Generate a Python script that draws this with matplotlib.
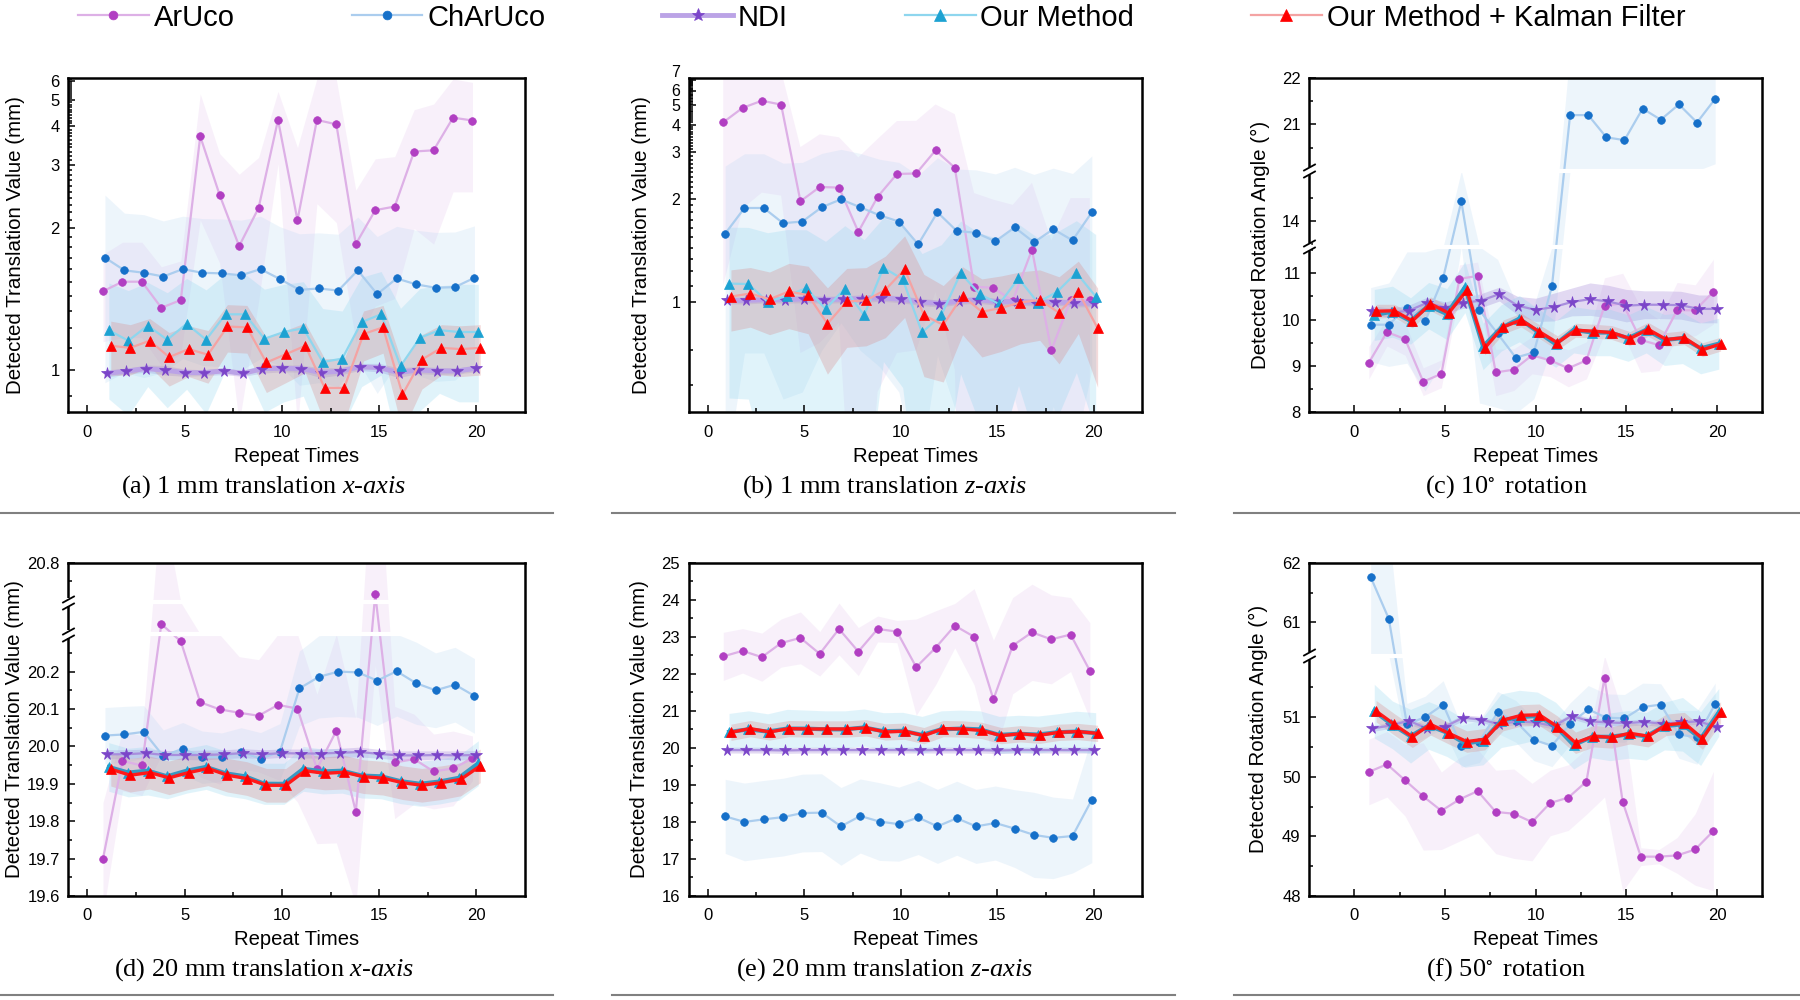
import numpy as np
import matplotlib
matplotlib.use("Agg")
import matplotlib.pyplot as plt
from matplotlib.lines import Line2D
from matplotlib.transforms import ScaledTranslation

plt.rcParams['font.family'] = ['Liberation Sans', 'DejaVu Sans']
plt.rcParams['mathtext.fontset'] = 'custom'
plt.rcParams['mathtext.rm'] = 'Liberation Serif'
plt.rcParams['mathtext.it'] = 'Liberation Serif:italic'
plt.rcParams['mathtext.bf'] = 'Liberation Serif:bold'
plt.rcParams['mathtext.fallback'] = 'stix'

# ---------------------------------------------------------------- data
REPEATS = [1, 2, 3, 4, 5, 6, 7, 8, 9, 10, 11, 12, 13, 14, 15, 16, 17, 18, 19, 20]
SERIES = ["ArUco", "ChArUco", "NDI", "Our Method", "Our Method + Kalman Filter"]
X_TICKS = [0, 5, 10, 15, 20]

# (a) 1 mm translation x-axis
ARUCO_A = [1.43, 1.50, 1.50, 1.32, 1.37, 3.70, 2.45, 1.81, 2.26, 4.22, 2.10, 4.22, 4.07, 1.83, 2.23, 2.28, 3.30, 3.33, 4.30, 4.20]
CHARUCO_A = [1.70, 1.59, 1.57, 1.54, 1.60, 1.57, 1.565, 1.55, 1.60, 1.52, 1.44, 1.45, 1.435, 1.59, 1.41, 1.525, 1.48, 1.455, 1.46, 1.53]
NDI_A = [0.987, 0.996, 1.007, 1.000, 0.990, 0.990, 0.997, 0.987, 1.006, 1.008, 1.007, 0.990, 0.996, 1.014, 1.011, 0.990, 1.001, 0.997, 0.997, 1.008]
OUR_A = [1.19, 1.135, 1.215, 1.14, 1.225, 1.14, 1.28, 1.28, 1.145, 1.18, 1.20, 1.035, 1.05, 1.235, 1.28, 1.017, 1.15, 1.19, 1.18, 1.18]
KF_A = [1.11, 1.10, 1.135, 1.057, 1.094, 1.068, 1.21, 1.205, 1.033, 1.07, 1.11, 0.93, 0.93, 1.17, 1.205, 0.906, 1.046, 1.10, 1.094, 1.10]
ARUCO_A_SD = [0.30, 0.35, 0.35, 0.30, 0.30, 1.60, 0.80, 1.00, 0.90, 1.20, 1.30, 1.90, 2.00, 0.70, 0.90, 0.90, 1.30, 1.50, 1.80, 1.70]
CHARUCO_A_SD = [0.75, 0.60, 0.60, 0.55, 0.55, 0.55, 0.55, 0.55, 0.55, 0.50, 0.50, 0.50, 0.50, 0.55, 0.50, 0.50, 0.50, 0.50, 0.50, 0.50]
NDI_A_SD = [0.015, 0.012, 0.015, 0.020, 0.015, 0.012, 0.015, 0.012, 0.018, 0.015, 0.015, 0.020, 0.015, 0.015, 0.018, 0.020, 0.015, 0.015, 0.012, 0.015]
OUR_A_SD = [0.30, 0.30, 0.28, 0.28, 0.30, 0.30, 0.28, 0.28, 0.30, 0.30, 0.30, 0.28, 0.25, 0.30, 0.30, 0.30, 0.30, 0.28, 0.30, 0.30]
KF_A_SD = [0.13, 0.12, 0.12, 0.12, 0.12, 0.12, 0.13, 0.13, 0.12, 0.12, 0.12, 0.12, 0.12, 0.13, 0.13, 0.12, 0.12, 0.12, 0.12, 0.12]

# (b) 1 mm translation z-axis
ARUCO_B = [4.10, 4.85, 5.30, 5.05, 1.96, 2.20, 2.19, 1.56, 2.03, 2.46, 2.47, 3.06, 2.60, 1.093, 1.085, 1.006, 1.38, 0.77, 1.01, 1.01]
CHARUCO_B = [1.54, 1.86, 1.86, 1.66, 1.68, 1.87, 1.99, 1.87, 1.76, 1.68, 1.43, 1.80, 1.57, 1.55, 1.46, 1.61, 1.45, 1.59, 1.47, 1.80]
NDI_B = [1.008, 1.008, 1.012, 1.012, 1.017, 1.012, 1.015, 1.019, 1.023, 1.015, 1.000, 0.990, 1.004, 1.012, 1.000, 1.002, 0.996, 1.000, 0.992, 0.992]
OUR_B = [1.113, 1.11, 1.00, 1.035, 1.083, 0.96, 1.08, 0.927, 1.228, 1.143, 0.845, 0.927, 1.186, 1.045, 0.987, 1.149, 0.996, 1.06, 1.19, 1.031]
KF_B = [1.031, 1.049, 1.015, 1.062, 1.039, 0.885, 1.002, 1.008, 1.072, 1.216, 0.927, 0.88, 1.035, 0.945, 0.966, 0.996, 1.011, 0.94, 1.06, 0.864]
ARUCO_B_SD = [3.0, 3.0, 3.2, 3.0, 1.2, 1.4, 1.3, 1.3, 1.4, 1.7, 1.7, 2.0, 1.9, 1.0, 0.9, 0.9, 0.9, 0.7, 1.0, 1.0]
CHARUCO_B_SD = [1.10, 1.10, 1.10, 1.05, 1.05, 1.10, 1.10, 1.10, 1.05, 1.05, 1.00, 1.05, 1.00, 1.00, 1.00, 1.00, 1.00, 1.00, 1.00, 1.10]
NDI_B_SD = [0.020, 0.020, 0.018, 0.020, 0.022, 0.020, 0.020, 0.022, 0.020, 0.020, 0.020, 0.020, 0.018, 0.020, 0.020, 0.020, 0.020, 0.018, 0.020, 0.020]
OUR_B_SD = [0.50, 0.50, 0.55, 0.55, 0.50, 0.50, 0.55, 0.55, 0.50, 0.50, 0.50, 0.50, 0.50, 0.50, 0.50, 0.50, 0.50, 0.50, 0.50, 0.50]
KF_B_SD = [0.18, 0.18, 0.18, 0.20, 0.20, 0.20, 0.22, 0.22, 0.25, 0.30, 0.25, 0.22, 0.20, 0.20, 0.20, 0.20, 0.20, 0.22, 0.22, 0.22]

# (c) 10 deg rotation
ARUCO_C = [9.07, 9.73, 9.58, 8.66, 8.83, 10.88, 10.94, 8.86, 8.92, 9.23, 9.12, 8.95, 9.12, 10.30, 10.35, 9.56, 9.45, 10.20, 10.20, 10.60]
CHARUCO_C = [9.89, 9.89, 10.26, 9.96, 10.90, 14.42, 10.20, 9.70, 9.18, 9.29, 10.72, 21.20, 21.20, 20.72, 20.66, 21.34, 21.10, 21.43, 21.04, 21.55]
NDI_C = [10.19, 10.15, 10.19, 10.36, 10.26, 10.36, 10.41, 10.55, 10.30, 10.21, 10.27, 10.38, 10.44, 10.39, 10.30, 10.32, 10.32, 10.31, 10.23, 10.23]
OUR_C = [10.10, 10.17, 9.97, 10.30, 10.12, 10.70, 9.42, 9.82, 10.02, 9.74, 9.47, 9.78, 9.72, 9.72, 9.60, 9.78, 9.56, 9.60, 9.38, 9.48]
KF_C = [10.18, 10.19, 9.97, 10.34, 10.14, 10.63, 9.39, 9.84, 9.99, 9.74, 9.50, 9.77, 9.75, 9.72, 9.59, 9.79, 9.57, 9.61, 9.35, 9.47]
ARUCO_C_SD = [0.35, 0.30, 0.35, 0.30, 0.30, 0.30, 0.30, 0.50, 0.45, 0.40, 0.35, 0.40, 0.40, 0.60, 0.65, 0.70, 0.55, 0.60, 0.55, 0.70]
CHARUCO_C_SD = [0.80, 0.90, 1.20, 1.50, 1.80, 2.50, 2.00, 1.60, 1.20, 1.00, 1.30, 1.40, 1.40, 1.40, 1.40, 1.40, 1.40, 1.40, 1.40, 1.40]
NDI_C_SD = [0.10, 0.10, 0.12, 0.12, 0.12, 0.12, 0.15, 0.15, 0.20, 0.25, 0.30, 0.30, 0.35, 0.35, 0.35, 0.30, 0.30, 0.30, 0.30, 0.30]
OUR_C_SD = [0.55, 0.55, 0.50, 0.50, 0.55, 0.55, 0.50, 0.50, 0.50, 0.50, 0.50, 0.50, 0.50, 0.50, 0.50, 0.50, 0.55, 0.55, 0.55, 0.55]
KF_C_SD = [0.15, 0.14, 0.15, 0.15, 0.15, 0.16, 0.15, 0.15, 0.15, 0.15, 0.15, 0.15, 0.15, 0.15, 0.15, 0.15, 0.15, 0.15, 0.15, 0.15]

# (d) 20 mm translation x-axis
ARUCO_D = [19.700, 19.961, 19.949, 20.477, 20.281, 20.118, 20.099, 20.090, 20.082, 20.111, 20.101, 19.940, 20.042, 19.825, 20.716, 19.957, 19.966, 19.933, 19.941, 19.968]
CHARUCO_D = [20.029, 20.032, 20.039, 19.974, 19.994, 19.971, 19.971, 19.985, 19.967, 19.986, 20.155, 20.186, 20.200, 20.198, 20.176, 20.201, 20.169, 20.150, 20.165, 20.135]
NDI_D = [19.979, 19.979, 19.982, 19.977, 19.977, 19.977, 19.979, 19.982, 19.979, 19.982, 19.981, 19.981, 19.983, 19.985, 19.980, 19.976, 19.976, 19.977, 19.976, 19.977]
OUR_D = [19.945, 19.930, 19.935, 19.920, 19.935, 19.945, 19.928, 19.920, 19.900, 19.900, 19.940, 19.933, 19.935, 19.922, 19.920, 19.907, 19.900, 19.906, 19.916, 19.955]
KF_D = [19.939, 19.923, 19.930, 19.916, 19.930, 19.941, 19.923, 19.914, 19.896, 19.896, 19.935, 19.928, 19.931, 19.919, 19.915, 19.903, 19.896, 19.903, 19.912, 19.948]
ARUCO_D_SD = [0.15, 0.08, 0.08, 0.50, 0.30, 0.20, 0.20, 0.15, 0.15, 0.20, 0.25, 0.20, 0.30, 0.25, 0.50, 0.15, 0.12, 0.10, 0.10, 0.06]
CHARUCO_D_SD = [0.075, 0.075, 0.070, 0.070, 0.070, 0.070, 0.065, 0.065, 0.070, 0.075, 0.100, 0.110, 0.120, 0.120, 0.120, 0.120, 0.110, 0.100, 0.100, 0.100]
NDI_D_SD = [0.012, 0.012, 0.011, 0.012, 0.012, 0.013, 0.012, 0.012, 0.012, 0.011, 0.012, 0.012, 0.012, 0.013, 0.012, 0.012, 0.012, 0.011, 0.012, 0.012]
OUR_D_SD = [0.065, 0.065, 0.065, 0.060, 0.060, 0.060, 0.060, 0.060, 0.055, 0.055, 0.060, 0.060, 0.060, 0.060, 0.060, 0.060, 0.060, 0.060, 0.060, 0.060]
KF_D_SD = [0.045, 0.045, 0.044, 0.045, 0.045, 0.046, 0.045, 0.045, 0.045, 0.045, 0.045, 0.044, 0.045, 0.045, 0.045, 0.045, 0.045, 0.045, 0.044, 0.045]

# (e) 20 mm translation z-axis
ARUCO_E = [22.47, 22.62, 22.45, 22.83, 22.97, 22.54, 23.21, 22.60, 23.21, 23.14, 22.18, 22.70, 23.30, 23.00, 21.31, 22.76, 23.12, 22.93, 23.06, 22.08]
CHARUCO_E = [18.15, 18.00, 18.07, 18.13, 18.24, 18.25, 17.88, 18.16, 18.01, 17.94, 18.12, 17.88, 18.10, 17.88, 17.97, 17.82, 17.65, 17.57, 17.62, 18.60]
NDI_E = [19.94, 19.94, 19.94, 19.93, 19.94, 19.94, 19.94, 19.94, 19.94, 19.94, 19.94, 19.94, 19.94, 19.94, 19.93, 19.94, 19.94, 19.94, 19.94, 19.94]
OUR_E = [20.43, 20.50, 20.44, 20.52, 20.52, 20.50, 20.50, 20.55, 20.45, 20.46, 20.35, 20.50, 20.52, 20.50, 20.35, 20.38, 20.36, 20.42, 20.44, 20.40]
KF_E = [20.42, 20.52, 20.43, 20.52, 20.51, 20.51, 20.51, 20.54, 20.43, 20.45, 20.33, 20.52, 20.51, 20.47, 20.33, 20.38, 20.34, 20.42, 20.44, 20.39]
ARUCO_E_SD = [0.65, 0.60, 0.65, 0.65, 0.70, 0.60, 0.70, 0.65, 0.35, 0.30, 1.30, 1.00, 0.60, 1.30, 1.60, 1.30, 1.30, 1.20, 1.00, 1.30]
CHARUCO_E_SD = [1.00, 1.05, 1.05, 1.05, 1.05, 1.05, 1.05, 1.00, 1.05, 1.00, 1.00, 1.00, 1.00, 1.00, 1.00, 1.05, 1.15, 1.10, 1.00, 1.70]
NDI_E_SD = [0.08, 0.08, 0.08, 0.08, 0.08, 0.08, 0.08, 0.08, 0.08, 0.08, 0.08, 0.08, 0.08, 0.08, 0.08, 0.08, 0.08, 0.08, 0.08, 0.08]
OUR_E_SD = [0.50, 0.50, 0.48, 0.52, 0.50, 0.50, 0.50, 0.50, 0.50, 0.50, 0.50, 0.50, 0.50, 0.50, 0.50, 0.50, 0.50, 0.50, 0.55, 0.55]
KF_E_SD = [0.22, 0.22, 0.22, 0.22, 0.22, 0.22, 0.22, 0.22, 0.22, 0.22, 0.22, 0.22, 0.22, 0.22, 0.22, 0.22, 0.22, 0.22, 0.22, 0.22]

# (f) 50 deg rotation
ARUCO_F = [50.08, 50.21, 49.94, 49.67, 49.43, 49.62, 49.76, 49.41, 49.38, 49.24, 49.56, 49.65, 49.92, 51.66, 49.58, 48.66, 48.66, 48.68, 48.78, 49.09]
CHARUCO_F = [61.76, 61.06, 50.88, 51.00, 51.21, 50.51, 50.59, 51.08, 50.93, 50.62, 50.52, 50.89, 51.13, 50.99, 50.98, 51.17, 51.21, 50.71, 50.66, 51.22]
NDI_F = [50.81, 50.86, 50.94, 50.81, 50.84, 50.99, 50.96, 50.88, 50.93, 50.91, 50.85, 51.02, 50.93, 50.91, 50.90, 50.92, 50.89, 50.91, 50.93, 50.83]
OUR_F = [51.10, 50.87, 50.68, 50.86, 50.74, 50.56, 50.60, 50.94, 51.00, 51.02, 50.85, 50.53, 50.67, 50.67, 50.71, 50.68, 50.85, 50.88, 50.64, 51.08]
KF_F = [51.10, 50.88, 50.67, 50.88, 50.73, 50.59, 50.63, 50.95, 51.03, 51.04, 50.84, 50.57, 50.68, 50.66, 50.73, 50.68, 50.87, 50.90, 50.64, 51.08]
ARUCO_F_SD = [0.55, 0.55, 0.60, 0.90, 0.65, 0.70, 0.70, 0.70, 0.75, 0.65, 0.55, 0.55, 0.55, 2.00, 1.50, 0.15, 0.12, 0.30, 0.60, 1.00]
CHARUCO_F_SD = [1.50, 1.50, 0.35, 0.35, 0.40, 0.35, 0.35, 0.35, 0.35, 0.35, 0.35, 0.35, 0.40, 0.40, 0.40, 0.40, 0.35, 0.40, 0.45, 0.35]
NDI_F_SD = [0.05, 0.05, 0.05, 0.05, 0.05, 0.05, 0.05, 0.05, 0.05, 0.05, 0.05, 0.05, 0.05, 0.05, 0.05, 0.05, 0.05, 0.05, 0.05, 0.05]
OUR_F_SD = [0.45, 0.40, 0.45, 0.40, 0.40, 0.40, 0.40, 0.45, 0.45, 0.40, 0.40, 0.40, 0.35, 0.40, 0.40, 0.40, 0.40, 0.45, 0.45, 0.40]
KF_F_SD = [0.18, 0.18, 0.18, 0.18, 0.18, 0.18, 0.18, 0.18, 0.18, 0.18, 0.18, 0.18, 0.18, 0.18, 0.18, 0.18, 0.18, 0.18, 0.18, 0.18]

# ---------------------------------------------------------------- styles
STYLE = [
    dict(marker='o', mc='#B13FC2', lc='#DDB0E6', bc='#E2BDEB', ba=0.22, ms=5.5, off=-0.2, lw=1.6),
    dict(marker='o', mc='#1670C9', lc='#ABCDEE', bc='#B7D6F2', ba=0.24, ms=5.5, off=-0.1, lw=1.6),
    dict(marker='*', mc='#7B45C9', lc='#BBA3E6', bc='#A58AD8', ba=0.32, ms=8.5, off=0.0, lw=3.5),
    dict(marker='^', mc='#1CA2D2', lc='#8ED6EE', bc='#86D3EF', ba=0.25, ms=7.5, off=0.1, lw=1.6),
    dict(marker='^', mc='#FF0000', lc='#F4A3A3', bc='#D98A8A', ba=0.30, ms=7.5, off=0.2, lw=1.6),
]
STRONG = {2: dict(lc='#A88EDD', lw=1.6), 3: dict(lc='#3A98C0', lw=3.0), 4: dict(lc='#FF1A1A', lw=2.4)}

W, H = 1800, 1000
COLS = [(68.0, 525.0), (688.5, 1142.0), (1309.0, 1762.3)]
ROWS = [(78.0, 412.3), (562.7, 896.0)]
CAP_X = [264, 885, 1506]
CAP_Y = [487, 970]
SEP_Y = [512.7, 995.0]
SEP_X = [(0, 553), (612, 1175), (1234, 1800)]

def power_functions(p):
    def fwd(y):
        y = np.asarray(y, dtype=float)
        return -np.power(np.clip(y, 1e-3, None), -p)
    def inv(u):
        u = np.asarray(u, dtype=float)
        return np.power(np.clip(-u, 1e-9, None), -1.0 / p)
    return fwd, inv

def break_functions(segments, eps=1e-4):
    d_pts, s_pts = [], []
    pos = 0.0
    for i, (lo, hi) in enumerate(segments):
        if i > 0:
            pos += eps
        d_pts += [lo, hi]
        s_pts += [pos, pos + hi - lo]
        pos += hi - lo
    d = np.array([d_pts[0] - 1e4] + d_pts + [d_pts[-1] + 1e4])
    s = np.array([s_pts[0] - 1e4] + s_pts + [s_pts[-1] + 1e4])
    fwd = lambda y: np.interp(np.asarray(y, dtype=float), d, s)
    inv = lambda u: np.interp(np.asarray(u, dtype=float), s, d)
    return fwd, inv

TRANS_LABEL = "Detected Translation Value (mm)"
ROT_LABEL = "Detected Rotation Angle (°)"

PANELS = [
    dict(means=[ARUCO_A, CHARUCO_A, NDI_A, OUR_A, KF_A], sds=[ARUCO_A_SD, CHARUCO_A_SD, NDI_A_SD, OUR_A_SD, KF_A_SD],
         col=0, row=0, scale=power_functions(0.475), ylim=(0.845, 6.16), xlim=(-1, 22.5),
         yticks=[1, 2, 3, 4, 5, 6], ylabels=['1', '2', '3', '4', '5', '6'],
         yminor=[0.9] + [v / 10 for v in range(11, 62) if v % 10],
         ylabel=TRANS_LABEL, ylab_x=-0.093, strong=False, gaps=[], ylab_va={},
         caption=r"(a) 1 mm translation $\mathit{x}$-$\mathit{axis}$"),
    dict(means=[ARUCO_B, CHARUCO_B, NDI_B, OUR_B, KF_B], sds=[ARUCO_B_SD, CHARUCO_B_SD, NDI_B_SD, OUR_B_SD, KF_B_SD],
         col=1, row=0, scale=power_functions(0.475), ylim=(0.575, 7.22), xlim=(-1, 22.5),
         yticks=[1, 2, 3, 4, 5, 6, 7], ylabels=['1', '2', '3', '4', '5', '6', '7'],
         yminor=[0.65, 0.77] + [v / 10 for v in range(11, 72) if v % 10],
         ylabel=TRANS_LABEL, ylab_x=-0.083, strong=False, gaps=[],
         ylab_va={'7': 'bottom', '6': 'center', '5': 'center_baseline'}, ytick_size=11.5,
         caption=r"(b) 1 mm translation $\mathit{z}$-$\mathit{axis}$"),
    dict(means=[ARUCO_C, CHARUCO_C, NDI_C, OUR_C, KF_C], sds=[ARUCO_C_SD, CHARUCO_C_SD, NDI_C_SD, OUR_C_SD, KF_C_SD],
         col=2, row=0, scale=break_functions([(8, 11.57), (13.44, 15.08), (20.0, 22.0)]), ylim=(8, 22), xlim=(-2.5, 22.5),
         yticks=[8, 9, 10, 11, 14, 21, 22], ylabels=['8', '9', '10', '11', '14', '21', '22'],
         yminor=[8.5, 9.5, 10.5, 11.5, 13.5, 14.5, 20.5, 21.5],
         ylabel=ROT_LABEL, ylab_x=-0.0868, strong=True, gaps=[12.5, 17.5], ylab_va={},
         caption=r"(c) $10^{\circ}\,$ rotation"),
    dict(means=[ARUCO_D, CHARUCO_D, NDI_D, OUR_D, KF_D], sds=[ARUCO_D_SD, CHARUCO_D_SD, NDI_D_SD, OUR_D_SD, KF_D_SD],
         col=0, row=1, scale=break_functions([(19.6, 20.30), (20.45, 20.535), (20.694, 20.8)]), ylim=(19.6, 20.8), xlim=(-1, 22.5),
         yticks=[19.6, 19.7, 19.8, 19.9, 20.0, 20.1, 20.2, 20.8],
         ylabels=['19.6', '19.7', '19.8', '19.9', '20.0', '20.1', '20.2', '20.8'],
         yminor=[19.65, 19.75, 19.85, 19.95, 20.05, 20.15, 20.25, 20.75],
         ylabel=TRANS_LABEL, ylab_x=-0.096, strong=True, gaps=[20.375, 20.61], ylab_va={},
         caption=r"(d) 20 mm translation $\mathit{x}$-$\mathit{axis}$"),
    dict(means=[ARUCO_E, CHARUCO_E, NDI_E, OUR_E, KF_E], sds=[ARUCO_E_SD, CHARUCO_E_SD, NDI_E_SD, OUR_E_SD, KF_E_SD],
         col=1, row=1, scale=None, ylim=(16, 25), xlim=(-1, 22.5),
         yticks=[16, 17, 18, 19, 20, 21, 22, 23, 24, 25],
         ylabels=['16', '17', '18', '19', '20', '21', '22', '23', '24', '25'],
         yminor=[16.5, 17.5, 18.5, 19.5, 20.5, 21.5, 22.5, 23.5, 24.5],
         ylabel=TRANS_LABEL, ylab_x=-0.0868, strong=True, gaps=[], ylab_va={},
         caption=r"(e) 20 mm translation $\mathit{z}$-$\mathit{axis}$"),
    dict(means=[ARUCO_F, CHARUCO_F, NDI_F, OUR_F, KF_F], sds=[ARUCO_F_SD, CHARUCO_F_SD, NDI_F_SD, OUR_F_SD, KF_F_SD],
         col=2, row=1, scale=break_functions([(48, 52.03), (60.44, 62.0)]), ylim=(48, 62), xlim=(-2.5, 22.5),
         yticks=[48, 49, 50, 51, 61, 62], ylabels=['48', '49', '50', '51', '61', '62'],
         yminor=[48.5, 49.5, 50.5, 51.5, 61.5],
         ylabel=ROT_LABEL, ylab_x=-0.0897, strong=True, gaps=[56.0], ylab_va={},
         caption=r"(f) $50^{\circ}\,$ rotation"),
]

fig = plt.figure(figsize=(18, 10), dpi=100)
legend_handles = None

def draw_break(ax, yval):
    tr = ax.get_yaxis_transform()
    ax.plot([0], [yval], marker=[(0, -1), (0, 1)], ms=6, mew=3.2, color='white',
            transform=tr, clip_on=False, zorder=5.5)
    for dy in (-2.6, 2.6):
        t = tr + ScaledTranslation(0, dy / 72.0, fig.dpi_scale_trans)
        ax.plot([0], [yval], marker=[(-1, -0.55), (1, 0.55)], ms=9, mew=1.3, color='black',
                transform=t, clip_on=False, zorder=6)

for pi, P in enumerate(PANELS):
    x0, x1 = COLS[P['col']]
    y0, y1 = ROWS[P['row']]
    ax = fig.add_axes([x0 / W, 1 - y1 / H, (x1 - x0) / W, (y1 - y0) / H])
    if P['scale'] is not None:
        ax.set_yscale('function', functions=P['scale'])
    handles = []
    for si in range(5):
        st = dict(STYLE[si])
        if P['strong'] and si in STRONG:
            st.update(STRONG[si])
        xs = np.array(REPEATS, dtype=float) + st['off']
        m = np.array(P['means'][si], dtype=float)
        s = np.array(P['sds'][si], dtype=float)
        ax.fill_between(xs, m - s, m + s, color=st['bc'], alpha=st['ba'], lw=0, zorder=1)
    for si in range(5):
        st = dict(STYLE[si])
        if P['strong'] and si in STRONG:
            st.update(STRONG[si])
        xs = np.array(REPEATS, dtype=float) + st['off']
        m = np.array(P['means'][si], dtype=float)
        ln, = ax.plot(xs, m, color=st['lc'], lw=st['lw'], marker=st['marker'], ms=st['ms'],
                      mfc=st['mc'], mec=st['mc'], mew=0.5, zorder=2 + 0.01 * si, label=SERIES[si])
        handles.append(ln)
    if legend_handles is None:
        legend_handles = handles
    for g in P['gaps']:
        ax.axhline(g, color='white', lw=3.0, zorder=2.3)
        draw_break(ax, g)
    ax.set_xlim(*P['xlim'])
    ax.set_ylim(*P['ylim'])
    ax.set_xticks(X_TICKS)
    ax.set_xticks([2.5, 7.5, 12.5, 17.5], minor=True)
    ax.set_yticks(P['yticks'], P['ylabels'])
    ax.set_yticks(P['yminor'], minor=True)
    ax.tick_params(which='both', direction='in', top=False, right=False, width=1.1, labelsize=12)
    ax.tick_params(axis='x', which='major', length=5, pad=9)
    ax.tick_params(axis='y', which='major', length=5, pad=6)
    ax.tick_params(which='minor', length=3)
    if 'ytick_size' in P:
        ax.tick_params(axis='y', which='major', labelsize=P['ytick_size'])
    for lbl in ax.get_yticklabels():
        if lbl.get_text() in P['ylab_va']:
            lbl.set_verticalalignment(P['ylab_va'][lbl.get_text()])
    for sp in ax.spines.values():
        sp.set_linewidth(1.8)
    ax.set_xlabel("Repeat Times", fontsize=14.6)
    ax.xaxis.set_label_coords(0.5, -0.103)
    ax.set_ylabel(P['ylabel'], fontsize=14.8)
    ax.yaxis.set_label_coords(P['ylab_x'], 0.5)
    fig.text(CAP_X[P['col']] / W, 1 - CAP_Y[P['row']] / H, P['caption'], ha='center', va='center',
             fontsize=19, family='Liberation Serif')

for r in range(2):
    for (xa, xb) in SEP_X:
        fig.add_artist(Line2D([xa / W, xb / W], [1 - SEP_Y[r] / H] * 2, transform=fig.transFigure,
                              color='#808080', lw=1.5))

fig.legend(legend_handles, SERIES, loc='center left', bbox_to_anchor=(78 / W, 1 - 17.5 / H), ncol=5,
           frameon=False, fontsize=21, handlelength=2.43, handletextpad=0.17, columnspacing=4.0,
           borderpad=0, borderaxespad=0, markerscale=1.15)

fig.savefig("out.png", dpi=100)
